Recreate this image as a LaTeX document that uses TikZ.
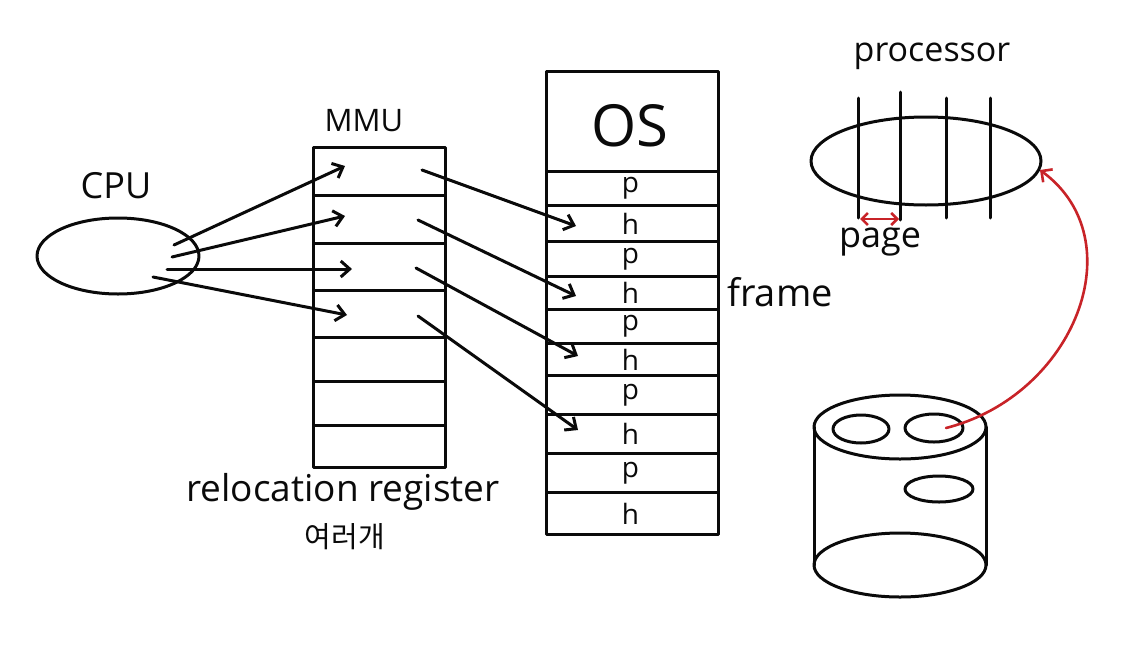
\documentclass[tikz,border=0pt]{standalone}
\usepackage{fontspec}
\setmainfont{Open Sans}
\newfontfamily\krfont{Noto Sans CJK KR}
\usetikzlibrary{arrows.meta,shapes.geometric}
\definecolor{pen}{RGB}{10,10,10}
\definecolor{redpen}{RGB}{200,35,40}
\begin{document}
\begin{tikzpicture}[x=1pt,y=-1pt,line width=3pt,line cap=round,line join=round,
  every node/.style={text=pen},
  tip/.style={-{Straight Barb[length=9pt,width=16pt,line width=3pt]}},
  cell/.style={draw=pen,inner sep=0pt,anchor=north west,minimum width=#1},
  mmucell/.style={cell=132pt},
  memcell/.style={cell=172pt},
  lbl/.style={inner sep=0pt,font=\fontsize{28}{30}\selectfont},
  oval/.style={draw=pen,ellipse,inner sep=0pt}]
\useasboundingbox (0,0) rectangle (1123,648);

% CPU
\node[oval,minimum width=162pt,minimum height=76pt] (cpu) at (118,256) {};
\node[inner sep=0pt,font=\fontsize{36}{38}\selectfont] (cpulbl) at (116,186) {CPU};

% MMU
\node[inner sep=0pt,font=\fontsize{31}{33}\selectfont] (mmulbl) at (364,121) {MMU};
\node[mmucell,minimum height=48pt] (m1) at (312,146) {};
\node[mmucell,minimum height=48pt] (m2) at (312,194) {};
\node[mmucell,minimum height=47pt] (m3) at (312,242) {};
\node[mmucell,minimum height=47pt] (m4) at (312,289) {};
\node[mmucell,minimum height=44pt] (m5) at (312,336) {};
\node[mmucell,minimum height=44pt] (m6) at (312,380) {};
\node[mmucell,minimum height=42pt] (m7) at (312,424) {};
\node[inner sep=0pt,font=\fontsize{37}{39}\selectfont] (reloc) at (343,492) {relocation register};
\node[inner sep=0pt,font=\krfont\fontsize{29}{31}\selectfont] (many) at (345,537) {여러개};

% Memory
\node[memcell,minimum height=100pt] (os) at (545,70) {};
\node[inner sep=0pt,font=\fontsize{58}{60}\selectfont] (oslbl) at (630,126) {OS};
\node[memcell,minimum height=34pt] (r1) at (545,170) {};
\node[memcell,minimum height=36pt] (r2) at (545,204) {};
\node[memcell,minimum height=35pt] (r3) at (545,240) {};
\node[memcell,minimum height=33pt] (r4) at (545,275) {};
\node[memcell,minimum height=34pt] (r5) at (545,308) {};
\node[memcell,minimum height=32pt] (r6) at (545,342) {};
\node[memcell,minimum height=39pt] (r7) at (545,374) {};
\node[memcell,minimum height=39pt] (r8) at (545,413) {};
\node[memcell,minimum height=39pt] (r9) at (545,452) {};
\node[memcell,minimum height=42pt] (r10) at (545,491) {};
\foreach \r/\t in {r1/p,r2/h,r3/p,r4/h,r5/p,r6/h,r7/p,r8/h,r9/p,r10/h}
  \node[lbl] at ([xshift=-2pt]\r.center) {\t};
\node[inner sep=0pt,font=\fontsize{38}{40}\selectfont] (frame) at (780,292) {frame};

% arrow coordinates
\coordinate (c1) at (174,245); \coordinate (c2) at (172,257);
\coordinate (c3) at (167,269); \coordinate (c4) at (153,277);
\coordinate (a1) at (345,166); \coordinate (a2) at (345,216);
\coordinate (a3) at (352,269); \coordinate (a4) at (347,315);
\coordinate (b1) at (422,170); \coordinate (b2) at (418,220);
\coordinate (b3) at (416,268); \coordinate (b4) at (418,316);
\coordinate (d1) at (576,226); \coordinate (d2) at (576,296);
\coordinate (d3) at (578,356); \coordinate (d4) at (578,430);
\foreach \i in {1,...,4} {
  \draw[tip,pen] (c\i) -- (a\i);
  \draw[tip,pen] (b\i) -- (d\i);
}

% processor
\node[inner sep=0pt,font=\fontsize{34}{36}\selectfont] (proclbl) at (932,56) {processor};
\node[oval,minimum width=230pt,minimum height=88pt] (proc) at (926,161) {};
\coordinate (v1t) at (858,98);  \coordinate (v1b) at (858,218);
\coordinate (v2t) at (900,92);  \coordinate (v2b) at (900,220);
\coordinate (v3t) at (946,98);  \coordinate (v3b) at (946,218);
\coordinate (v4t) at (990,98);  \coordinate (v4b) at (990,218);
\foreach \i in {1,...,4} \draw[pen] (v\i t) -- (v\i b);
\coordinate (pg1) at (860,219); \coordinate (pg2) at (899,219);
\draw[redpen,line width=2.6pt,{Straight Barb[length=6pt,width=12pt,line width=2.6pt]}-{Straight Barb[length=6pt,width=12pt,line width=2.6pt]}] (pg1) -- (pg2);
\node[inner sep=0pt,font=\fontsize{36}{38}\selectfont] (pagelbl) at (880,242) {page};

% disk cylinder
\draw[pen] (900,427) ellipse [x radius=86, y radius=32];
\draw[pen] (814,427) -- (814,565);
\draw[pen] (986,427) -- (986,565);
\draw[pen] (900,565) ellipse [x radius=86, y radius=32];
\node[oval,minimum width=56pt,minimum height=28pt] (hole1) at (861,429) {};
\node[oval,minimum width=58pt,minimum height=28pt] (hole2) at (934,428) {};
\node[oval,minimum width=68pt,minimum height=26pt] (hole3) at (939,489) {};

% red curve
\coordinate (rs) at (946,428);
\coordinate (re) at (1040,170);
\draw[redpen,line width=2.6pt,-{Straight Barb[length=8pt,width=16pt,line width=2.6pt]}]
  (rs) .. controls (1075,395) and (1135,240) .. (re);
\end{tikzpicture}
\end{document}
